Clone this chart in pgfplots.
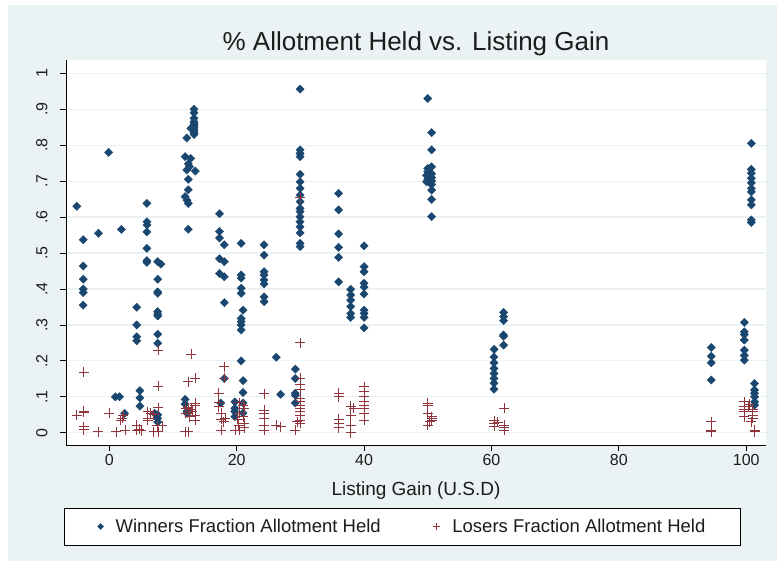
\documentclass[border=0pt]{standalone}
\usepackage{pgfplots}
\pgfplotsset{compat=1.18}
\usepackage{fontspec}
\setmainfont{Liberation Sans}
\definecolor{bgc}{HTML}{EAF2F3}
\definecolor{stblue}{HTML}{1A476F}
\definecolor{stred}{HTML}{90353B}
\definecolor{txt}{HTML}{1C1C1C}
\begin{document}
\begin{tikzpicture}
\fill[white] (0pt,0pt) rectangle (777pt,564pt);
\fill[bgc] (8pt,3pt) rectangle (777pt,559pt);
\begin{axis}[at={(66pt,119pt)}, anchor=south west, scale only axis,
 width=700pt, height=385pt,
 xmin=-6.8, xmax=103.1, ymin=-0.034, ymax=1.037,
 axis background/.style={fill=white},
 axis x line*=bottom, axis y line*=left,
 axis line style={-, black, line width=0.8pt},
 xtick={0,20,40,60,80,100},
 ytick={0,0.1,0.2,0.3,0.4,0.5,0.6,0.7,0.8,0.9,1},
 yticklabels={0,.1,.2,.3,.4,.5,.6,.7,.8,.9,1},
 ymajorgrids, grid style={bgc, line width=1.2pt},
 tick align=outside, major tick length=6pt,
 tick style={black, line width=0.8pt},
 /pgf/number format/assume math mode=true,
 tick label style={font=\fontsize{16}{19}\selectfont, text=txt},
 yticklabel style={rotate=90, anchor=south},
 yticklabel shift=9pt,
 title={\% Allotment Held vs. Listing Gain},
 title style={at={(axis description cs:0.5,1)}, anchor=base, yshift=3pt, font=\fontsize{26}{30}\selectfont, text=txt},
 xlabel={Listing Gain (U.S.D)},
 xlabel style={at={(axis description cs:0.5,0)}, anchor=base, yshift=-51pt, font=\fontsize{19}{22}\selectfont, text=txt},
 legend style={at={(axis description cs:0.4807,-0.2117)}, anchor=center, draw=black, fill=white,
   legend columns=2, font=\fontsize{18.5}{22}\selectfont, text=txt,
   /tikz/every odd column/.append style={column sep=10pt},
   /tikz/every even column/.append style={column sep=50pt}, inner xsep=33pt, inner ysep=9pt},
]
\addplot[only marks, mark=square*, mark size=2.9pt, mark options={rotate=45, draw=stblue, fill=stblue},
  legend image post style={mark size=2.1pt}] table {
x y
-5.1 0.63
-4.1 0.537
-4.1 0.464
-4.1 0.427
-4.1 0.40
-4.1 0.39
-4.1 0.355
-1.7 0.555
-0.1 0.78
1.9 0.566
0.95 0.10
1.6 0.10
2.4 0.054
4.3 0.349
4.3 0.30
4.3 0.267
4.3 0.256
4.8 0.117
4.8 0.097
4.8 0.074
5.9 0.638
5.9 0.587
5.9 0.578
5.9 0.559
5.9 0.513
5.9 0.479
5.9 0.474
7.6 0.476
8.1 0.469
7.6 0.427
7.6 0.392
7.6 0.388
7.6 0.337
7.6 0.33
7.6 0.325
7.6 0.274
7.6 0.249
7.1 0.054
7.6 0.05
7.6 0.04
7.6 0.03
12.15 0.82
13.3 0.90
13.3 0.89
13.3 0.875
13.3 0.865
13.3 0.86
13.3 0.855
13.3 0.85
13.3 0.845
13.3 0.84
13.3 0.835
13.3 0.83
12.8 0.847
11.9 0.768
12.8 0.763
12.4 0.748
12.6 0.74
12.15 0.731
13.5 0.728
12.4 0.705
12.4 0.676
11.9 0.657
12.2 0.647
12.4 0.638
12.4 0.566
11.9 0.093
11.9 0.08
12.2 0.06
12.2 0.054
17.3 0.609
17.3 0.56
17.3 0.542
18.05 0.523
17.3 0.484
18.05 0.476
17.3 0.443
18.05 0.434
18.05 0.362
18.05 0.151
17.5 0.083
20.7 0.527
20.7 0.439
20.7 0.43
20.7 0.402
20.7 0.388
21.0 0.341
20.7 0.318
20.7 0.309
20.7 0.30
20.7 0.286
20.7 0.20
21.0 0.145
21.0 0.112
21.0 0.083
19.7 0.086
19.7 0.068
19.7 0.059
19.7 0.045
21.0 0.055
24.3 0.523
24.3 0.494
24.3 0.448
24.3 0.439
24.3 0.425
24.3 0.414
24.3 0.378
24.3 0.365
26.2 0.21
26.9 0.107
29.2 0.177
29.2 0.151
29.2 0.11
29.2 0.104
29.2 0.083
29.95 0.956
29.95 0.787
29.95 0.777
29.95 0.768
29.95 0.719
29.95 0.698
29.95 0.68
29.95 0.661
29.95 0.643
29.95 0.624
29.95 0.615
29.95 0.601
29.95 0.587
29.95 0.573
29.95 0.556
29.95 0.527
29.95 0.518
36.0 0.666
36.0 0.62
36.0 0.553
36.0 0.516
36.0 0.488
36.0 0.42
37.9 0.399
37.9 0.383
37.9 0.369
37.9 0.351
37.9 0.332
37.9 0.321
40.0 0.52
40.0 0.462
40.0 0.448
40.0 0.416
40.0 0.405
40.0 0.386
40.0 0.341
40.0 0.332
40.0 0.321
40.0 0.292
50.0 0.93
50.6 0.835
50.6 0.787
50.6 0.74
50.0 0.735
50.0 0.726
50.6 0.72
49.8 0.716
50.6 0.71
50.0 0.705
50.6 0.70
49.8 0.698
50.6 0.69
50.6 0.675
50.6 0.649
50.6 0.601
60.4 0.232
60.4 0.211
60.4 0.195
60.4 0.179
60.4 0.165
60.4 0.151
60.4 0.138
60.4 0.121
61.9 0.335
61.9 0.323
61.9 0.312
61.9 0.272
61.9 0.268
61.9 0.244
94.5 0.237
94.5 0.213
94.5 0.195
94.5 0.147
99.7 0.307
99.7 0.281
99.7 0.273
99.7 0.258
99.7 0.23
99.7 0.215
99.7 0.202
100.8 0.805
100.8 0.733
100.8 0.722
100.8 0.708
100.8 0.695
100.8 0.68
100.8 0.67
100.8 0.648
100.8 0.634
100.8 0.592
100.8 0.585
101.3 0.137
101.3 0.119
101.3 0.11
101.3 0.10
101.3 0.086
101.3 0.077
};
\addlegendentry{Winners Fraction Allotment Held}
\addplot[only marks, mark=+, mark size=5pt, mark options={draw=stred, line width=1pt},
  legend image post style={mark size=3.8pt}] table {
x y
-4.0 0.168
-4.0 0.06
-4.0 0.057
-5.1 0.049
-4.0 0.017
-4.0 0.01
-4.0 0.008
-1.7 0.003
0.0 0.054
1.05 0.003
1.8 0.035
2.2 0.049
2.0 0.04
2.5 0.007
4.3 0.021
4.3 0.007
4.7 0.01
5.0 0.005
6.0 0.058
6.5 0.055
7.0 0.05
6.0 0.04
6.0 0.035
7.7 0.23
7.7 0.13
7.7 0.07
7.5 0.02
8.3 0.02
7.7 0.003
7.0 0.003
12.9 0.218
12.4 0.142
13.5 0.151
13.5 0.082
13.5 0.076
12.4 0.07
12.9 0.065
12.0 0.068
12.0 0.054
13.5 0.049
12.6 0.045
13.5 0.035
11.9 0.003
12.4 0.003
13.0 0.06
18.05 0.184
18.05 0.151
17.2 0.11
17.2 0.083
17.2 0.072
17.6 0.054
17.6 0.037
18.0 0.03
17.6 0.007
18.2 0.04
20.4 0.083
21.0 0.077
21.2 0.068
20.4 0.054
20.2 0.037
20.3 0.021
19.8 0.007
20.4 0.007
21.2 0.027
21.2 0.014
21.0 0.045
24.3 0.108
24.3 0.063
24.3 0.054
24.3 0.04
24.3 0.021
24.3 0.007
26.2 0.021
26.9 0.017
29.2 0.007
30.0 0.251
30.0 0.654
30.0 0.151
30.0 0.135
30.0 0.119
30.0 0.096
30.0 0.086
30.0 0.077
30.0 0.068
30.0 0.058
30.0 0.049
30.0 0.035
30.0 0.026
29.5 0.03
36.0 0.11
36.0 0.10
36.0 0.037
36.0 0.026
36.0 0.014
37.9 0.074
38.4 0.068
37.9 0.049
37.9 0.021
37.9 0.0
40.0 0.128
40.0 0.115
40.0 0.10
40.0 0.086
40.0 0.077
40.0 0.068
40.0 0.054
40.0 0.035
50.0 0.082
50.0 0.077
50.0 0.054
50.6 0.045
50.6 0.04
50.6 0.035
50.3 0.03
50.0 0.021
62.0 0.068
60.4 0.033
60.4 0.027
61.0 0.029
60.4 0.018
62.0 0.021
62.0 0.014
62.0 0.007
94.5 0.031
94.5 0.007
94.5 0.003
99.7 0.086
99.7 0.072
99.7 0.064
99.7 0.058
99.7 0.045
100.3 0.072
101.0 0.064
101.0 0.058
101.0 0.049
100.5 0.08
101.3 0.007
101.3 0.003
100.8 0.03
101.0 0.04
};
\addlegendentry{Losers Fraction Allotment Held}
\end{axis}
\end{tikzpicture}
\end{document}
